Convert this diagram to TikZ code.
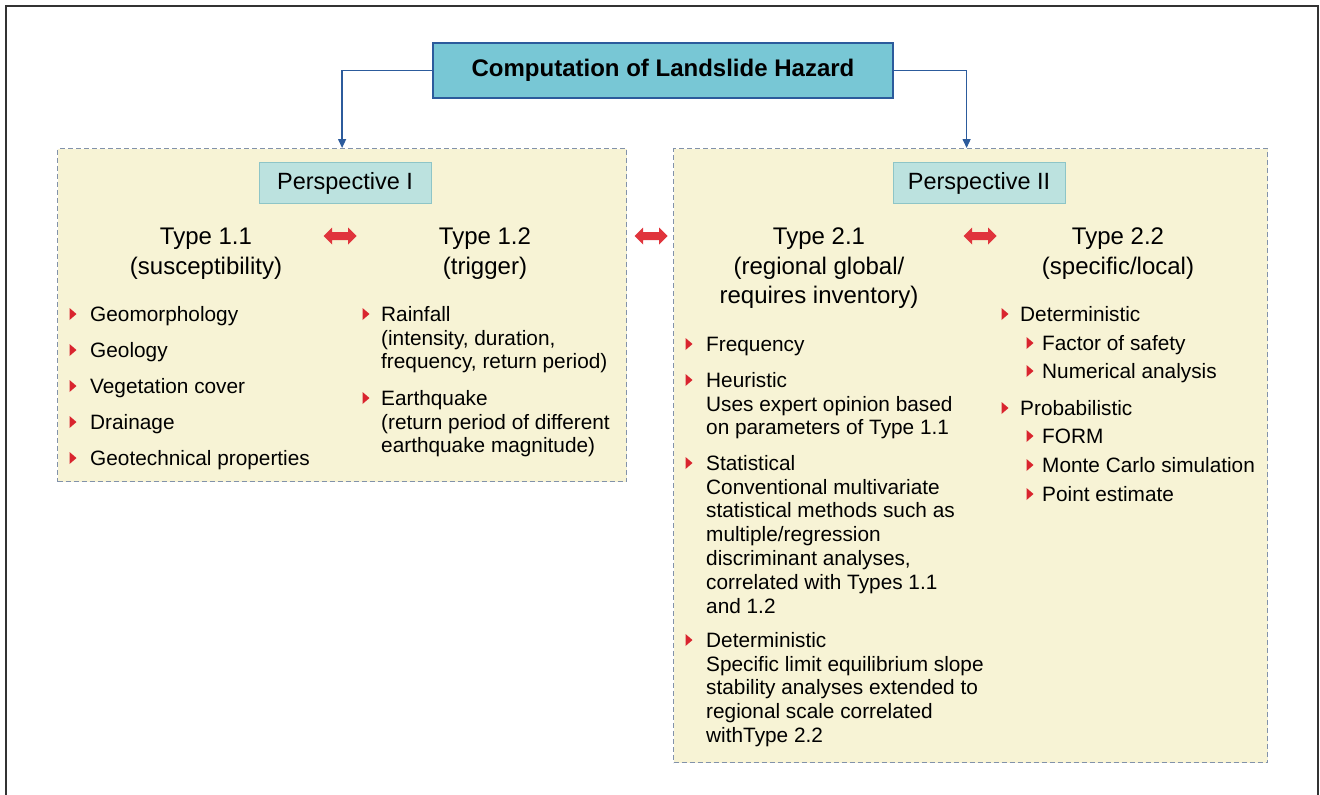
\documentclass[tikz,border=0pt]{standalone}
\usepackage{fontspec}
\setmainfont{Liberation Sans}
\usetikzlibrary{arrows.meta}
\definecolor{titlefill}{HTML}{78C7D5}
\definecolor{titledraw}{HTML}{2C5B9C}
\definecolor{panelfill}{HTML}{F7F3D5}
\definecolor{paneldraw}{HTML}{8292AA}
\definecolor{perfill}{HTML}{BCE2DF}
\definecolor{perdraw}{HTML}{8EC5C7}
\definecolor{arrred}{HTML}{E0343C}
\definecolor{bulred}{HTML}{D9242E}
\definecolor{framec}{HTML}{333333}
\tikzset{
  titlebox/.style={draw=titledraw, line width=1.4pt, fill=titlefill, minimum width=460pt, minimum height=55pt, inner sep=0pt, font=\fontsize{24}{28}\selectfont\bfseries},
  panelbox/.style={draw=paneldraw, dash pattern=on 5pt off 3pt, line width=1.2pt, fill=panelfill, inner sep=0pt, anchor=north west},
  perbox/.style={draw=perdraw, line width=0.9pt, fill=perfill, minimum width=172pt, minimum height=41pt, inner sep=0pt, font=\fontsize{23.5}{28}\selectfont},
  typehead/.style={anchor=north, align=center, inner sep=0pt, font=\fontsize{24}{29.5}\selectfont},
  itemtext/.style={anchor=north west, align=left, inner sep=0pt, font=\fontsize{20.8}{23.8}\selectfont},
  conn/.style={draw=titledraw, line width=1.4pt, -{Triangle[length=9pt,width=8pt]}},
  bul/.pic={\fill[bulred] (-3.5,-6) -- (3.5,0) -- (-3.5,6) -- cycle;},
  dbl/.pic={\fill[arrred] (-16.5,0) -- (-8,-8.5) -- (-8,-4) -- (8,-4) -- (8,-8.5) -- (16.5,0) -- (8,8.5) -- (8,4) -- (-8,4) -- (-8,8.5) -- cycle;}
}
\begin{document}
\begin{tikzpicture}[x=1pt,y=-1pt]
\useasboundingbox (0,0) rectangle (1320,795);
\draw[framec, line width=1.5pt] (6,800) -- (6,6) -- (1318,6) -- (1318,800);

% panels
\node[panelbox, minimum width=569pt, minimum height=333pt] (p1) at (57,148) {};
\node[panelbox, minimum width=594pt, minimum height=614pt] (p2) at (673,148) {};

% title
\node[titlebox] (title) at (663,70.5) {Computation of Landslide Hazard};
\draw[conn] (title.west) -| (p1.north);
\draw[conn] (title.east) -| ([xshift=-4pt]p2.north);

% perspective boxes
\node[perbox] (per1) at (345,183) {Perspective I};
\node[perbox] (per2) at (979,183) {Perspective II};

% type headings
\node[typehead] (t11) at (206,224) {\strut Type 1.1\\(susceptibility)};
\node[typehead] (t12) at (485,224) {\strut Type 1.2\\(trigger)};
\node[typehead] (t21) at (819,224) {\strut Type 2.1\\(regional global/\\requires inventory)};
\node[typehead] (t22) at (1118,224) {\strut Type 2.2\\(specific/local)};

% double arrows
\pic at (340,236) {dbl};
\pic at (651,236) {dbl};
\pic at (980,236) {dbl};

% Type 1.1 items
\foreach \n/\y/\t in {a/314/Geomorphology, b/350/Geology, c/386/Vegetation cover, d/422/Drainage, e/458/Geotechnical properties}{
  \pic at (73,\y) {bul};
  \node[itemtext] (i11\n) at (90,\y-9.5) {\strut\t};
}

% Type 1.2 items
\pic at (366,314) {bul};
\node[itemtext] (i12a) at (381,304.5) {\strut Rainfall\\(intensity, duration,\\frequency, return period)};
\pic at (366,398) {bul};
\node[itemtext] (i12b) at (381,388.5) {\strut Earthquake\\(return period of different\\earthquake magnitude)};

% Type 2.1 items
\pic at (689,344) {bul};
\node[itemtext] (i21a) at (706,334.5) {\strut Frequency};
\pic at (689,380) {bul};
\node[itemtext] (i21b) at (706,370.5) {\strut Heuristic\\Uses expert opinion based\\on parameters of Type 1.1};
\pic at (689,463) {bul};
\node[itemtext] (i21c) at (706,453.5) {\strut Statistical\\Conventional multivariate\\statistical methods such as\\multiple/regression\\discriminant analyses,\\correlated with Types 1.1\\and 1.2};
\pic at (689,640) {bul};
\node[itemtext] (i21d) at (706,630.5) {\strut Deterministic\\Specific limit equilibrium slope\\stability analyses extended to\\regional scale correlated\\withType 2.2};

% Type 2.2 items
\pic at (1005,314) {bul};
\node[itemtext] (i22a) at (1020,304.5) {\strut Deterministic};
\pic at (1030,343) {bul};
\node[itemtext] (i22b) at (1042,333.5) {\strut Factor of safety};
\pic at (1030,371) {bul};
\node[itemtext] (i22c) at (1042,361.5) {\strut Numerical analysis};
\pic at (1005,408) {bul};
\node[itemtext] (i22d) at (1020,398.5) {\strut Probabilistic};
\pic at (1030,436) {bul};
\node[itemtext] (i22e) at (1042,426.5) {\strut FORM};
\pic at (1030,465) {bul};
\node[itemtext] (i22f) at (1042,455.5) {\strut Monte Carlo simulation};
\pic at (1030,494) {bul};
\node[itemtext] (i22g) at (1042,484.5) {\strut Point estimate};
\end{tikzpicture}
\end{document}
